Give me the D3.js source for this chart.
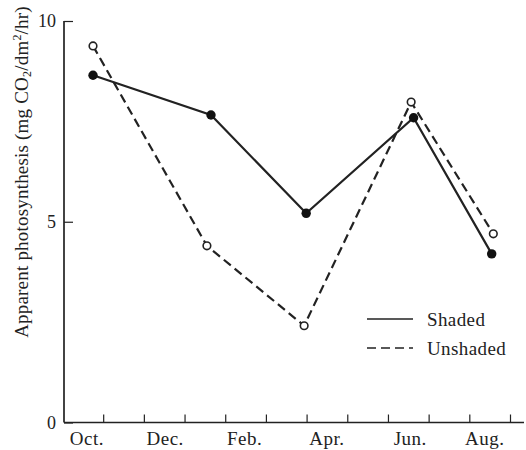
<!DOCTYPE html>
<html>
<head>
<meta charset="utf-8">
<script src="https://cdn.jsdelivr.net/npm/d3@7"></script>
<style>
  html, body { margin: 0; padding: 0; background: #fff; }
  svg { display: block; }
  text { font-family: "Liberation Serif", "DejaVu Serif", serif; fill: #222; }
</style>
</head>
<body>
<svg id="chart" width="526" height="450"></svg>
<script>
// Month index from Oct 1 (0 = Oct 1, 1 = Nov 1, ...)
const monthLabels = ["Oct.", "Dec.", "Feb.", "Apr.", "Jun.", "Aug."];
const monthLabelPos = [0.5, 2.5, 4.5, 6.5, 8.5, 10.5];
const monthTicks = [1, 2, 3, 4, 5, 6, 7, 8, 9, 10, 11];
const yTicks = [0, 5, 10];

const shadedX = [0.75, 3.65, 5.99, 8.63, 10.55];
const shadedY = [8.65, 7.66, 5.21, 7.59, 4.20];
const unshadedX = [0.75, 3.55, 5.94, 8.57, 10.59];
const unshadedY = [9.38, 4.40, 2.41, 7.98, 4.70];

const svg = d3.select("#chart");
const x = d3.scaleLinear().domain([0, 11]).range([62.5, 510]);
const y = d3.scaleLinear().domain([0, 10]).range([422.5, 21]);
const ink = "#222";

// Axes
const xAxisEnd = 524;
svg.append("line").attr("x1", 64).attr("x2", xAxisEnd)
  .attr("y1", y(0)).attr("y2", y(0)).attr("stroke", ink).attr("stroke-width", 1.7);
svg.append("line").attr("x1", 64).attr("x2", 64)
  .attr("y1", y(0)).attr("y2", y(10)).attr("stroke", ink).attr("stroke-width", 1.7);

const xg = svg.append("g").attr("transform", `translate(0,${y(0)})`);
xg.call(d3.axisBottom(x).tickValues(monthTicks).tickSize(-8).tickFormat(""));
xg.select(".domain").remove();
xg.selectAll(".tick line").attr("stroke", ink).attr("stroke-width", 1.2);

svg.selectAll(".mlabel").data(monthLabels).enter().append("text")
  .attr("class", "mlabel")
  .attr("x", (d, i) => x(monthLabelPos[i]) + [4, 1, -1, 0, 2, -5][i])
  .attr("y", 445)
  .attr("text-anchor", "middle")
  .attr("font-size", 19)
  .attr("letter-spacing", 0.5)
  .text(d => d);

const yg = svg.append("g").attr("transform", "translate(64,0)");
yg.call(d3.axisLeft(y).tickValues(yTicks).tickSize(-9).tickFormat(""));
yg.select(".domain").remove();
yg.selectAll(".tick line").attr("stroke", ink).attr("stroke-width", 1.2);

svg.selectAll(".ylabel").data(yTicks).enter().append("text")
  .attr("class", "ylabel")
  .attr("x", 56)
  .attr("y", d => y(d) + 6)
  .attr("text-anchor", "end")
  .attr("font-size", 18)
  .text(d => d);

// Y axis title
const yt = svg.append("text")
  .attr("transform", "translate(28,172) rotate(-90)")
  .attr("text-anchor", "middle")
  .attr("font-size", 19)
  .attr("letter-spacing", 0.2);
yt.append("tspan").text("Apparent photosynthesis (mg CO");
yt.append("tspan").attr("font-size", 12).attr("dy", 3).text("2");
yt.append("tspan").attr("dy", -3).text("/dm");
yt.append("tspan").attr("font-size", 12).attr("dy", -7).text("2");
yt.append("tspan").attr("dy", 7).text("/hr)");

// Lines
const shaded = shadedX.map((d, i) => [d, shadedY[i]]);
const unshaded = unshadedX.map((d, i) => [d, unshadedY[i]]);
const line = d3.line().x(d => x(d[0])).y(d => y(d[1]));

svg.append("path").datum(shaded).attr("d", line)
  .attr("fill", "none").attr("stroke", ink).attr("stroke-width", 2.2);
svg.append("path").datum(unshaded).attr("d", line)
  .attr("fill", "none").attr("stroke", ink).attr("stroke-width", 2.2)
  .attr("stroke-dasharray", "9,5");

svg.selectAll(".open").data(unshaded).enter().append("circle")
  .attr("cx", d => x(d[0])).attr("cy", d => y(d[1])).attr("r", 3.8)
  .attr("fill", "#fff").attr("stroke", ink).attr("stroke-width", 1.6);
svg.selectAll(".filled").data(shaded).enter().append("circle")
  .attr("cx", d => x(d[0])).attr("cy", d => y(d[1])).attr("r", 4.7)
  .attr("fill", "#111");

// Legend
const legend = [{name: "Shaded", dash: null, y: 319}, {name: "Unshaded", dash: "9,5", y: 348}];
const lg = svg.selectAll(".leg").data(legend).enter().append("g");
lg.append("line").attr("x1", 367).attr("x2", 413)
  .attr("y1", d => d.y).attr("y2", d => d.y)
  .attr("stroke", ink).attr("stroke-width", 1.7)
  .attr("stroke-dasharray", d => d.dash);
lg.append("text").attr("x", 427).attr("y", d => d.y + 7)
  .attr("font-size", 19).attr("letter-spacing", 0.4).text(d => d.name);
</script>
</body>
</html>
